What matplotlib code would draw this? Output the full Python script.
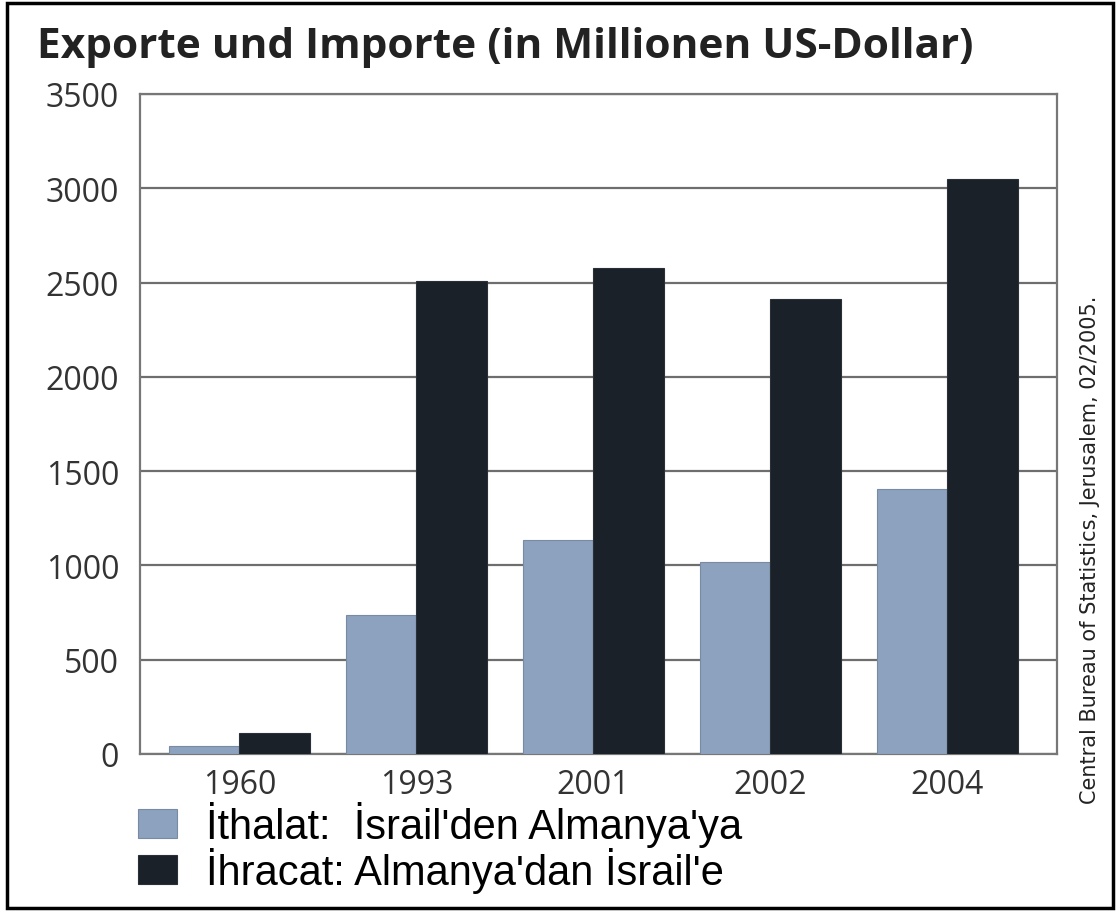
import matplotlib
matplotlib.use("Agg")
import matplotlib.pyplot as plt
import numpy as np
from matplotlib.patches import Rectangle

# values (million US-Dollar)
years = ["1960", "1993", "2001", "2002", "2004"]
imports = [42, 735, 1135, 1020, 1405]      # Israel -> Germany
exports = [110, 2510, 2575, 2415, 3050]    # Germany -> Israel
yticks = [0, 500, 1000, 1500, 2000, 2500, 3000, 3500]

title = "Exporte und Importe (in Millionen US-Dollar)"
import_label = "İthalat:  İsrail'den Almanya'ya"
export_label = "İhracat: Almanya'dan İsrail'e"
source = "Central Bureau of Statistics, Jerusalem, 02/2005."

W, H = 1117, 912
fig = plt.figure(figsize=(W / 100, H / 100), dpi=100)
fig.patch.set_facecolor("white")

ax = fig.add_axes([140 / W, 1 - 755 / H, 917 / W, 660 / H])
x = np.arange(len(years))
width = 0.4
b1 = ax.bar(x - width / 2, imports, width, color="#8da2bf", edgecolor="#7a8aa0",
            linewidth=0.8, zorder=3, label=import_label)
b2 = ax.bar(x + width / 2, exports, width, color="#1a2129", edgecolor="#2a3038",
            linewidth=0.8, zorder=3, label=export_label)

ax.set_xlim(-0.562, 4.62)
ax.set_ylim(0, 3500)
ax.set_yticks(yticks)
ax.set_yticklabels([str(v) for v in yticks], fontsize=23, family="Open Sans", color="#333333")
ax.set_xticks(x)
ax.set_xticklabels(years, fontsize=23, family="Open Sans", color="#333333")
ax.tick_params(axis="both", length=0)
ax.tick_params(axis="y", pad=15)
ax.tick_params(axis="x", pad=10)
ax.grid(axis="y", color="#6e6e6e", linewidth=1.6, zorder=1)
for s in ax.spines.values():
    s.set_color("#777777")
    s.set_linewidth(1.6)

fig.text(37 / W, 1 - 47 / H, title, fontsize=30.5, fontweight="bold", family="Open Sans",
         color="#222222", va="center", ha="left")

fig.text(1090 / W, 1 - 550 / H, source, rotation=90, fontsize=15,
         family=["Liberation Sans Narrow", "DejaVu Sans"], color="#222222",
         va="center", ha="center")

ax.legend(handles=[b1, b2], loc="upper left", bbox_to_anchor=(138 / W, 1 - 802 / H),
          bbox_transform=fig.transFigure, frameon=False,
          prop={"family": "Liberation Sans", "size": 30},
          handlelength=0.94, handleheight=0.72, handletextpad=0.7,
          labelspacing=0.0, borderpad=0, borderaxespad=0)

# outer frame
fig.patches.append(Rectangle((7 / W, 1 - 909 / H), 1106 / W, 905 / H,
                             transform=fig.transFigure, fill=False,
                             edgecolor="black", linewidth=2.5))

fig.savefig("out.png", dpi=100)
